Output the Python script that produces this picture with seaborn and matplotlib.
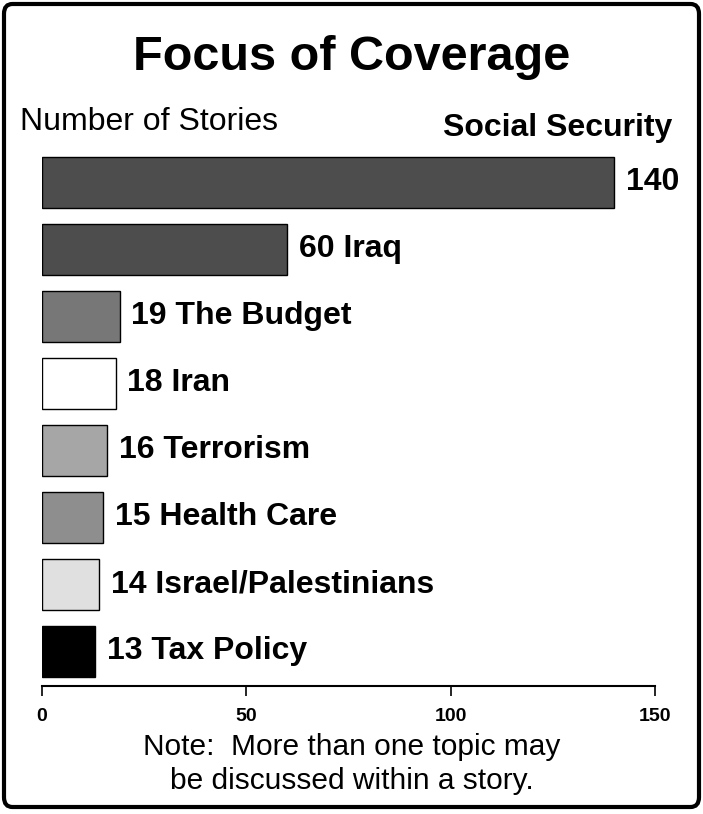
import matplotlib
matplotlib.use("Agg")
import matplotlib.pyplot as plt
from matplotlib.patches import FancyBboxPatch
import seaborn as sns
import pandas as pd

topics = ["Social Security", "Iraq", "The Budget", "Iran", "Terrorism",
          "Health Care", "Israel/Palestinians", "Tax Policy"]
stories = [140, 60, 19, 18, 16, 15, 14, 13]
bar_colors = ["#4d4d4d", "#4d4d4d", "#777777", "#ffffff", "#a6a6a6",
              "#8e8e8e", "#e0e0e0", "#000000"]
x_ticks = [0, 50, 100, 150]

sns.set_theme(style="white")
plt.rcParams["font.family"] = ["Liberation Sans", "DejaVu Sans"]
plt.rcParams["text.color"] = "black"
plt.rcParams["xtick.color"] = "black"
plt.rcParams["axes.labelcolor"] = "black"

df = pd.DataFrame({"topic": topics, "stories": stories})

W, H = 703, 814
fig = plt.figure(figsize=(W / 100, H / 100), dpi=100)
fig.patch.set_facecolor("white")

# rounded frame around the whole graphic
frame = FancyBboxPatch((4 / W, 7 / H), 695 / W, 803 / H,
                       boxstyle="round,pad=0,rounding_size=0.012",
                       transform=fig.transFigure, fill=False,
                       edgecolor="black", linewidth=3)
fig.patches.append(frame)

ax_left, ax_right = 42 / W, 655 / W
ax_top, ax_bot = 1 - 148.5 / H, 1 - 686 / H
ax = fig.add_axes([ax_left, ax_bot, ax_right - ax_left, ax_top - ax_bot])

sns.barplot(data=df, x="stories", y="topic", hue="topic",
            palette=dict(zip(topics, bar_colors)), legend=False,
            width=0.76, edgecolor="black", linewidth=1.0, saturation=1, ax=ax)

ax.set_xlim(0, 150)
ax.set_ylim(7.515, -0.5)
ax.set_xticks(x_ticks)
ax.set_xticklabels([str(t) for t in x_ticks], fontsize=14, fontweight="bold",
                   color="black")
ax.tick_params(axis="x", direction="out", length=7, width=1.2, pad=9,
               bottom=True, color="black")
ax.set_yticks([])
ax.set_xlabel("")
ax.set_ylabel("")
for s in ["top", "right", "left"]:
    ax.spines[s].set_visible(False)
ax.spines["bottom"].set_linewidth(1.5)
ax.spines["bottom"].set_color("black")
ax.set_facecolor("white")

# value labels next to each bar
for i, (t, v) in enumerate(zip(topics, stories)):
    label = str(v) if i == 0 else f"{v} {t}"
    ax.annotate(label, xy=(v, i), xytext=(8.5, 0), textcoords="offset points",
                ha="left", va="center", fontsize=23, fontweight="bold",
                color="black")

# first category named above its bar
ax.annotate(topics[0], xy=(stories[0], 0), xytext=(673 - 615, 54),
            textcoords="offset pixels", ha="right", va="center",
            fontsize=23, fontweight="bold", color="black")

fig.text(0.5, 1 - 58 / H, "Focus of Coverage", ha="center", va="center",
         fontsize=35, fontweight="bold", color="black")
fig.text(20 / W, 1 - 122 / H, "Number of Stories", ha="left", va="center",
         fontsize=23, color="black")
fig.text(0.5, 1 - 747 / H, "Note:  More than one topic may", ha="center",
         va="center", fontsize=21.5, color="black")
fig.text(0.5, 1 - 781 / H, "be discussed within a story.", ha="center",
         va="center", fontsize=21.5, color="black")

fig.savefig("out.png", dpi=100, facecolor="white")
